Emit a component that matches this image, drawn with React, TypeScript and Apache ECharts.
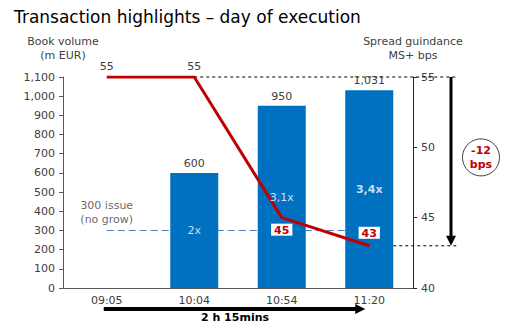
import React, { useEffect, useRef } from "react";
import * as echarts from "echarts";

const categories = ["09:05", "10:04", "10:54", "11:20"];
const bookVolume: (number | string)[] = ["-", 600, 950, 1031];
const spread = [55, 55, 45, 43];
const multiples = ["", "2x", "3,1x", "3,4x"];
const multipleLevels = [0, 300, 470, 515];
const issueSize = 300;
const issueNoteLevel = 396;
const spreadChange = "-12\nbps";
const durationText = "2 h 15mins";

const FONT = "DejaVu Sans";
const GREY = "#404040";
const BLUE = "#0070C0";
const RED = "#C00000";

export default function App() {
  const ref = useRef<HTMLDivElement>(null);
  useEffect(() => {
    if (!ref.current) return;
    const chart = echarts.init(ref.current, null, { renderer: "svg" });
    const scatterData: any[] = [];
    categories.forEach((c, i) => {
      if (multiples[i]) {
        scatterData.push({
          value: [c, multipleLevels[i]],
          label: { fontWeight: i === 3 ? "bold" : "normal" },
          text: multiples[i],
        });
      }
    });
    scatterData.push({
      value: [categories[0], issueNoteLevel],
      text: issueSize + " issue\n(no grow)",
      label: { color: GREY, lineHeight: 14 },
    });
    chart.setOption({
      animation: false,
      textStyle: { fontFamily: FONT },
      title: {
        text: "Transaction highlights – day of execution",
        left: 9,
        top: 3,
        textStyle: { fontFamily: FONT, fontSize: 17, fontWeight: "normal", color: "#000" },
      },
      grid: { left: 63, right: 97, top: 77, bottom: 43, containLabel: false },
      xAxis: {
        type: "category",
        data: categories,
        axisLine: { lineStyle: { color: "#595959" } },
        axisTick: { show: false },
        axisLabel: { color: GREY, fontSize: 11, fontFamily: FONT, margin: 7 },
      },
      yAxis: [
        {
          type: "value",
          min: 0,
          max: 1100,
          interval: 100,
          name: "Book volume\n(m EUR)",
          nameGap: 15,
          nameTextStyle: { color: GREY, fontSize: 11, fontFamily: FONT, lineHeight: 14, align: "center" },
          splitLine: { show: false },
          axisLine: { show: true, lineStyle: { color: "#595959" } },
          axisTick: { show: true, length: 4, lineStyle: { color: "#595959" } },
          axisLabel: {
            color: GREY,
            fontSize: 11,
            fontFamily: FONT,
            margin: 8,
            formatter: (v: number) => v.toLocaleString("en-US"),
          },
        },
        {
          type: "value",
          min: 40,
          max: 55,
          interval: 5,
          name: "Spread guindance\nMS+ bps",
          nameGap: 15,
          nameTextStyle: { color: GREY, fontSize: 11, fontFamily: FONT, lineHeight: 14, align: "center" },
          splitLine: { show: false },
          axisLine: { show: true, lineStyle: { color: "#262626" } },
          axisTick: { show: true, length: 4, lineStyle: { color: "#262626" } },
          axisLabel: { color: GREY, fontSize: 11, fontFamily: FONT, margin: 8 },
        },
      ],
      series: [
        {
          type: "bar",
          data: bookVolume,
          barWidth: 48,
          z: 3,
          itemStyle: { color: BLUE },
          label: {
            show: true,
            position: "top",
            distance: 4,
            color: GREY,
            fontSize: 11,
            fontFamily: FONT,
            formatter: (p: any) => Number(p.value).toLocaleString("en-US"),
          },
          markLine: {
            silent: true,
            symbol: "none",
            z: 1,
            label: { show: false },
            lineStyle: { type: [7, 4], color: "#4F7FBF", width: 1 },
            data: [[{ coord: [categories[0], issueSize] }, { coord: [categories[3], issueSize] }]],
          },
        },
        {
          type: "line",
          yAxisIndex: 1,
          data: spread.map((v, i) => {
            if (i < 2) {
              return { value: v, label: { show: true, position: "top", distance: 5, color: GREY, fontSize: 11 } };
            }
            return {
              value: v,
              label: {
                show: true,
                position: i === 2 ? "bottom" : "top",
                distance: i === 2 ? 6 : 7,
                color: RED,
                fontWeight: "bold",
                fontSize: 11,
                backgroundColor: "#fff",
                padding: [1, 3, 0, 3],
              },
            };
          }),
          z: 4,
          symbol: "circle",
          symbolSize: 0,
          showSymbol: true,
          itemStyle: { color: RED },
          lineStyle: { color: RED, width: 3 },
          label: { fontFamily: FONT },
        },
        {
          type: "scatter",
          data: scatterData,
          symbolSize: 0,
          z: 5,
          label: {
            show: true,
            position: "inside",
            color: "#fff",
            fontSize: 11,
            fontFamily: FONT,
            formatter: (p: any) => p.data.text,
          },
        },
      ],
    });

    const px = (cat: string, v: number, yIdx: number) =>
      chart.convertToPixel({ xAxisIndex: 0, yAxisIndex: yIdx } as any, [cat, v]) as number[];
    const p55 = px(categories[1], spread[1], 1);
    const p43 = px(categories[3], spread[3], 1);
    const arrowX = 451;
    const dotted = { stroke: "#000", lineWidth: 1, lineDash: [3, 3] };
    const first = px(categories[0], 0, 0);
    const last = px(categories[3], 0, 0);
    const arrowY = 309;
    const circleY = (p55[1] + p43[1]) / 2 - 4;
    chart.setOption({
      graphic: [
        { type: "line", shape: { x1: p55[0], y1: p55[1], x2: 457, y2: p55[1] }, style: dotted, z: 1 },
        { type: "line", shape: { x1: p43[0], y1: p43[1], x2: 457, y2: p43[1] }, style: dotted, z: 1 },
        { type: "line", shape: { x1: arrowX, y1: p55[1], x2: arrowX, y2: p43[1] - 8 }, style: { stroke: "#000", lineWidth: 3 } },
        {
          type: "polygon",
          shape: { points: [[arrowX - 5, p43[1] - 10], [arrowX + 5, p43[1] - 10], [arrowX, p43[1]]] },
          style: { fill: "#000" },
        },
        { type: "circle", shape: { cx: 481, cy: circleY, r: 18.5 }, style: { fill: "#fff", stroke: GREY, lineWidth: 1 } },
        {
          type: "text",
          x: 481,
          y: circleY,
          style: {
            text: spreadChange,
            fill: RED,
            font: `bold 11px "${FONT}"`,
            align: "center",
            verticalAlign: "middle",
            lineHeight: 14,
          },
        },
        { type: "line", shape: { x1: first[0] - 3, y1: arrowY, x2: last[0] - 12, y2: arrowY }, style: { stroke: "#000", lineWidth: 4 } },
        {
          type: "polygon",
          shape: { points: [[last[0] - 14, arrowY - 5], [last[0] - 14, arrowY + 5], [last[0] - 4, arrowY]] },
          style: { fill: "#000" },
        },
        {
          type: "text",
          x: (first[0] + last[0]) / 2 - 3,
          y: arrowY + 8,
          style: { text: durationText, fill: "#000", font: `bold 11px "${FONT}"`, align: "center", verticalAlign: "middle" },
        },
      ],
    });
    return () => chart.dispose();
  }, []);
  return <div ref={ref} style={{ width: 510, height: 331, position: "absolute", left: 0, top: 0 }} />;
}
